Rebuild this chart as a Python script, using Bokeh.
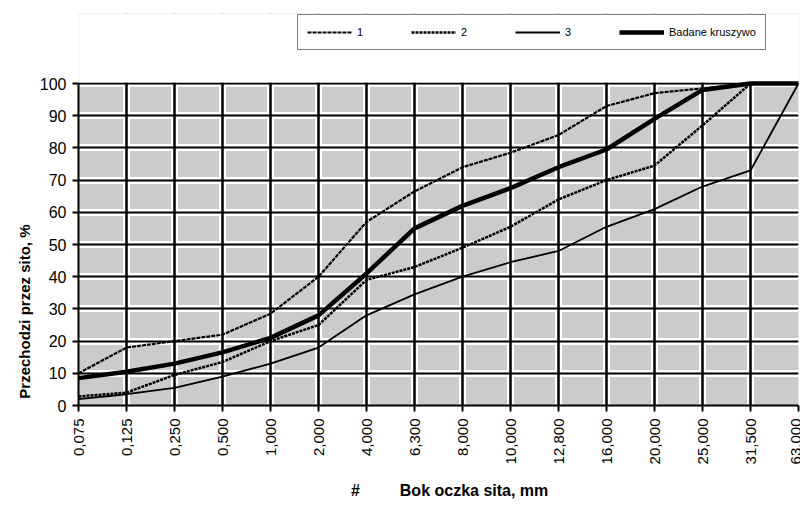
from bokeh.plotting import figure
from bokeh.models import Range1d, FixedTicker, Grid, Legend, LegendItem
from bokeh.embed import file_html
from bokeh.resources import INLINE
from math import pi

# --- data ---
sieves = ["0,075", "0,125", "0,250", "0,500", "1,000", "2,000", "4,000", "6,300",
          "8,000", "10,000", "12,800", "16,000", "20,000", "25,000", "31,500", "63,000"]
curve_1 = [10, 18, 20, 22, 28.5, 40, 57, 66.5, 74, 78.5, 84, 93, 97, 98.5, 100, 100]
curve_2 = [2.8, 4, 9.5, 13.5, 20, 25, 39, 43, 49, 55.5, 64, 70, 74.5, 87, 100, 100]
curve_3 = [2, 3.5, 5.5, 9, 13, 18, 28, 34.5, 40, 44.5, 48, 55.5, 61, 68, 73, 100]
badane = [8.5, 10.5, 13, 16.5, 21, 28, 41, 55, 62, 67.5, 74, 79.5, 89, 98, 100, 100]
y_ticks = [0, 10, 20, 30, 40, 50, 60, 70, 80, 90, 100]
legend_labels = ["1", "2", "3", "Badane kruszywo"]
NB = "\u00a0"
x_title = NB * 5 + "#" + NB * 8 + " Bok oczka sita, mm"
# trailing padding moves the visible title towards the lower end of the axis
y_title = "Przechodzi przez sito, %" + NB * 49

xs = list(range(len(sieves)))
FONT = "Liberation Sans"

W, H = 800, 503
B_LEFT, B_RIGHT, B_TOP, B_BOTTOM = 78, 2, 13, 98
frame_h = H - B_TOP - B_BOTTOM
data_h = 322  # pixels spanned by 0..100
y_max = y_ticks[-1] * frame_h / data_h

p = figure(width=W, height=H, x_range=Range1d(0, len(sieves) - 1), y_range=Range1d(0, y_max),
           output_backend="svg", toolbar_location=None,
           min_border_left=B_LEFT, min_border_right=B_RIGHT,
           min_border_top=B_TOP, min_border_bottom=B_BOTTOM)
p.background_fill_color = "#cbcbcb"
p.border_fill_color = "white"
p.outline_line_color = None

xticker = FixedTicker(ticks=xs)
yticker = FixedTicker(ticks=y_ticks)
p.xaxis.ticker = xticker
p.yaxis.ticker = yticker
p.yaxis.bounds = (y_ticks[0], y_ticks[-1])
p.xaxis.major_label_overrides = {i: s for i, s in enumerate(sieves)}
p.xaxis.major_label_orientation = pi / 2
p.xaxis.minor_tick_line_color = None
p.yaxis.minor_tick_line_color = None
for ax in (p.xaxis, p.yaxis):
    ax.major_tick_in = 0
    ax.major_tick_out = 6
    ax.major_tick_line_width = 2
    ax.axis_line_width = 2
    ax.axis_line_color = "black"
    ax.major_tick_line_color = "black"
    ax.major_label_text_font = FONT
    ax.major_label_text_color = "black"
    ax.axis_label_text_font = FONT
    ax.axis_label_text_font_style = "bold"
    ax.axis_label_text_color = "black"
p.xaxis.axis_label_text_font_size = "16px"
p.yaxis.axis_label_text_font_size = "15px"
p.xaxis.major_label_text_font_size = "15px"
p.yaxis.major_label_text_font_size = "16px"
p.xaxis.major_label_standoff = 7
p.yaxis.major_label_standoff = 6
p.xaxis.axis_label = x_title
p.yaxis.axis_label = y_title
p.xaxis.axis_label_standoff = 15
p.yaxis.axis_label_standoff = 4

# white halo grid + black grid
p.xgrid.grid_line_color = "white"
p.xgrid.grid_line_width = 7
p.ygrid.grid_line_color = "white"
p.ygrid.grid_line_width = 7
p.add_layout(Grid(dimension=0, ticker=xticker, grid_line_color="black", grid_line_width=2.5))
p.add_layout(Grid(dimension=1, ticker=yticker, grid_line_color="black", grid_line_width=2))

# white area above the 100 % line (room for the legend box)
p.quad(left=[-1], right=[len(sieves)], bottom=[y_ticks[-1] + 0.3], top=[y_max + 5],
       fill_color="white", line_color=None)

r1 = p.line(xs, curve_1, line_color="black", line_width=2.2, line_dash="4 1")
r2 = p.line(xs, curve_2, line_color="black", line_width=2.5, line_dash="3 1")
r3 = p.line(xs, curve_3, line_color="black", line_width=1.8)
r4 = p.line(xs, badane, line_color="black", line_width=4.5)

legend = Legend(items=[LegendItem(label=l, renderers=[r]) for l, r in zip(legend_labels, [r1, r2, r3, r4])],
                orientation="horizontal", location=(219, frame_h - 37), margin=0,
                glyph_width=45, glyph_height=16, label_height=16, label_standoff=5, spacing=34,
                padding=9, label_text_font=FONT, label_text_font_size="11px",
                label_text_color="black",
                border_line_color="black", border_line_width=1.5, background_fill_color="white",
                background_fill_alpha=1.0)
p.add_layout(legend)

open("out.html", "w").write(file_html(p, INLINE))
